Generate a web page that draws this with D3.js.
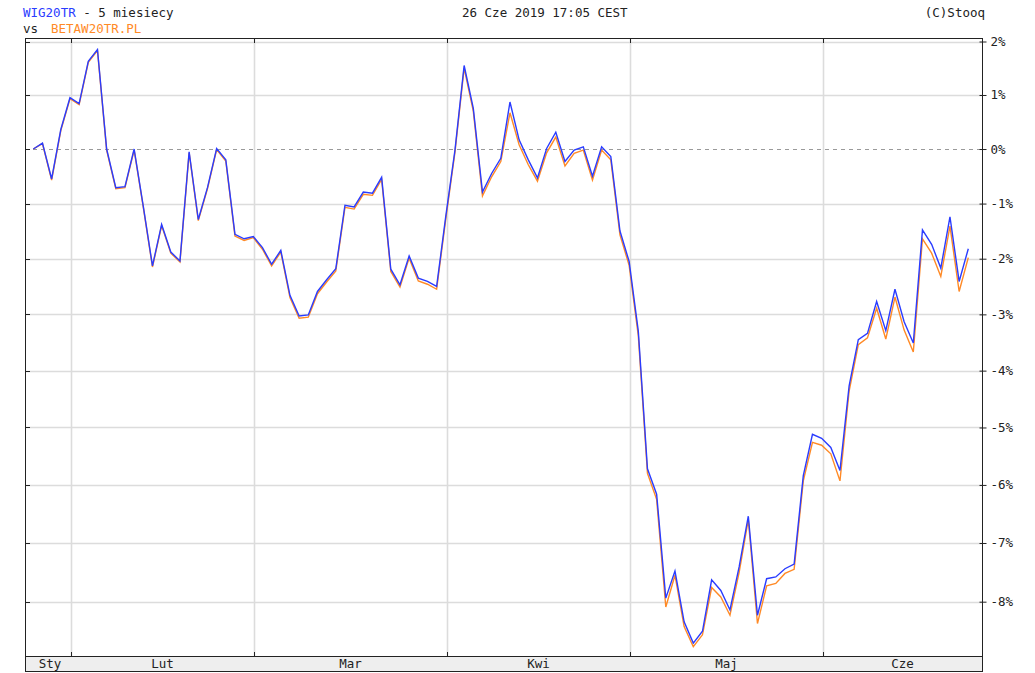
<!DOCTYPE html>
<html>
<head>
<meta charset="utf-8">
<script src="https://cdn.jsdelivr.net/npm/d3@7"></script>
<style>
  body { margin: 0; background: #fff; }
  svg { display: block; font-family: "DejaVu Sans Mono", monospace; font-size: 12.5px; }
</style>
</head>
<body>
<div id="chart"></div>
<script>
// WIG20TR vs BETAW20TR.PL, % change over 5 months (trading days)
const wig20tr = [
  0.00, 0.11, -0.55, 0.36, 0.95, 0.84, 1.63, 1.85, 0.00, -0.71,
  -0.69, 0.00, -1.05, -2.13, -1.38, -1.88, -2.04, -0.05, -1.29, -0.71,
  0.01, -0.20, -1.56, -1.64, -1.60, -1.80, -2.10, -1.85, -2.66, -3.03,
  -3.01, -2.59, -2.38, -2.18, -1.03, -1.06, -0.79, -0.81, -0.52, -2.19,
  -2.47, -1.95, -2.35, -2.41, -2.50, -1.23, -0.02, 1.55, 0.75, -0.79,
  -0.45, -0.17, 0.87, 0.17, -0.20, -0.53, 0.01, 0.31, -0.23, -0.02,
  0.04, -0.50, 0.04, -0.14, -1.50, -2.05, -3.30, -5.72, -6.16, -7.94,
  -7.48, -8.34, -8.70, -8.50, -7.63, -7.81, -8.14, -7.41, -6.54, -8.23,
  -7.61, -7.58, -7.44, -7.36, -5.84, -5.12, -5.19, -5.35, -5.75, -4.27,
  -3.45, -3.34, -2.77, -3.29, -2.55, -3.13, -3.51, -1.48, -1.74, -2.17,
  -1.24, -2.41, -1.82
];
const betaw20tr = [
  0.00, 0.10, -0.57, 0.34, 0.93, 0.82, 1.61, 1.83, -0.02, -0.73,
  -0.71, -0.02, -1.07, -2.15, -1.40, -1.90, -2.06, -0.07, -1.31, -0.73,
  -0.01, -0.22, -1.59, -1.67, -1.62, -1.83, -2.13, -1.88, -2.70, -3.07,
  -3.05, -2.63, -2.42, -2.22, -1.07, -1.10, -0.83, -0.85, -0.56, -2.23,
  -2.51, -1.99, -2.40, -2.46, -2.55, -1.28, -0.06, 1.50, 0.70, -0.86,
  -0.51, -0.23, 0.67, 0.08, -0.29, -0.59, -0.07, 0.22, -0.31, -0.08,
  -0.02, -0.57, -0.02, -0.20, -1.57, -2.12, -3.38, -5.80, -6.25, -8.09,
  -7.55, -8.42, -8.76, -8.56, -7.76, -7.92, -8.23, -7.50, -6.60, -8.37,
  -7.73, -7.69, -7.52, -7.45, -5.93, -5.26, -5.31, -5.46, -5.93, -4.36,
  -3.54, -3.42, -2.89, -3.44, -2.69, -3.28, -3.67, -1.64, -1.90, -2.32,
  -1.41, -2.59, -1.98
];
const monthNames = ["Sty", "Lut", "Mar", "Kwi", "Maj", "Cze"];
const monthStartIdx = [0, 5, 25, 46, 66, 87];   // first trading day of each month
const yTicks = [2, 1, 0, -1, -2, -3, -4, -5, -6, -7, -8];

const W = 1035, H = 673;
const L = 25, R = 982, T = 38, B = 656, BAND = 15;

const svg = d3.select("#chart").append("svg").attr("width", W).attr("height", H);

// log scale on price ratio, labelled in %
const y = d3.scaleLog().domain([0.91084, 1.02066]).range([B, T]);
const yp = p => y(1 + p / 100);
const x = d3.scaleLinear().domain([0, wig20tr.length - 1]).range([33.3, 968.3]);

// month boundaries sit a bit before the first trading day
const bounds = monthStartIdx.slice(1).map(i => Math.round(x(i - 0.88)));

// grid
const grid = svg.append("g");
yTicks.filter(t => t !== 0).forEach(t => {
  grid.append("line").attr("x1", L).attr("x2", R)
    .attr("y1", Math.round(yp(t)) + 0.5).attr("y2", Math.round(yp(t)) + 0.5)
    .attr("stroke", "#dcdcdc").attr("stroke-width", 1.6);
});
bounds.forEach(bx => {
  grid.append("line").attr("x1", bx + 0.5).attr("x2", bx + 0.5).attr("y1", T).attr("y2", B)
    .attr("stroke", "#dcdcdc").attr("stroke-width", 1.6);
});
grid.append("line").attr("x1", L).attr("x2", R)
  .attr("y1", Math.round(yp(0)) + 0.5).attr("y2", Math.round(yp(0)) + 0.5)
  .attr("stroke", "#9a9a9a").attr("stroke-dasharray", "4,4");

// series
const line = d3.line().x((d, i) => x(i)).y(d => yp(d));
svg.append("path").datum(betaw20tr).attr("d", line)
  .attr("fill", "none").attr("stroke", "#ff8a26").attr("stroke-width", 1.4);
svg.append("path").datum(wig20tr).attr("d", line)
  .attr("fill", "none").attr("stroke", "#2a3cff").attr("stroke-width", 1.4);

// month band
svg.append("rect").attr("x", L).attr("y", B).attr("width", R - L).attr("height", BAND)
  .attr("fill", "#eeeeee");

// frame
const frame = svg.append("g").attr("stroke", "#222").attr("fill", "none");
frame.append("rect").attr("x", L + 0.5).attr("y", T + 0.5).attr("width", R - L).attr("height", B + BAND - T);
frame.append("line").attr("x1", L).attr("x2", R + 1).attr("y1", B + 0.5).attr("y2", B + 0.5);

// right axis
const axis = svg.append("g").attr("transform", `translate(${R + 0.5},0)`)
  .call(d3.axisRight(y).tickValues(yTicks.map(t => 1 + t / 100))
    .tickFormat(v => `${d3.format("d")(Math.round((v - 1) * 100))}%`)
    .tickSize(4).tickPadding(4));
axis.select(".domain").remove();
axis.selectAll(".tick line").attr("x1", -3).attr("stroke", "#222");
axis.selectAll(".tick text").attr("fill", "#222")
  .style("font-family", "'DejaVu Sans Mono', monospace").style("font-size", "12.5px")
  .text(function () { return this.textContent.replace("−", "-"); });

// small inner ticks on left, top and bottom
yTicks.forEach(t => {
  frame.append("line").attr("x1", L).attr("x2", L + 5)
    .attr("y1", Math.round(yp(t)) + 0.5).attr("y2", Math.round(yp(t)) + 0.5);
});
bounds.forEach(bx => {
  frame.append("line").attr("x1", bx + 0.5).attr("x2", bx + 0.5).attr("y1", T).attr("y2", T + 5);
  frame.append("line").attr("x1", bx + 0.5).attr("x2", bx + 0.5).attr("y1", B - 4).attr("y2", B);
});

// month labels
const edges = [L, ...bounds, R];
monthNames.forEach((m, i) => {
  svg.append("text").attr("x", (edges[i] + edges[i + 1]) / 2 + (i === 0 ? 2 : 0)).attr("y", B + 12)
    .attr("text-anchor", "middle").attr("fill", "#222").text(m);
});

// header
const h1 = svg.append("text").attr("x", 23).attr("y", 17).attr("fill", "#222");
h1.append("tspan").attr("fill", "#2a3cff").text("WIG20TR");
h1.append("tspan").text(" - 5 miesiecy");
const h2 = svg.append("text").attr("x", 23).attr("y", 33).attr("fill", "#222");
h2.append("tspan").text("vs");
h2.append("tspan").attr("x", 51).attr("fill", "#ff8a26").text("BETAW20TR.PL");
svg.append("text").attr("x", 462).attr("y", 17).attr("fill", "#222").text("26 Cze 2019 17:05 CEST");
svg.append("text").attr("x", 985).attr("y", 17).attr("text-anchor", "end").attr("fill", "#222").text("(C)Stooq");
</script>
</body>
</html>
